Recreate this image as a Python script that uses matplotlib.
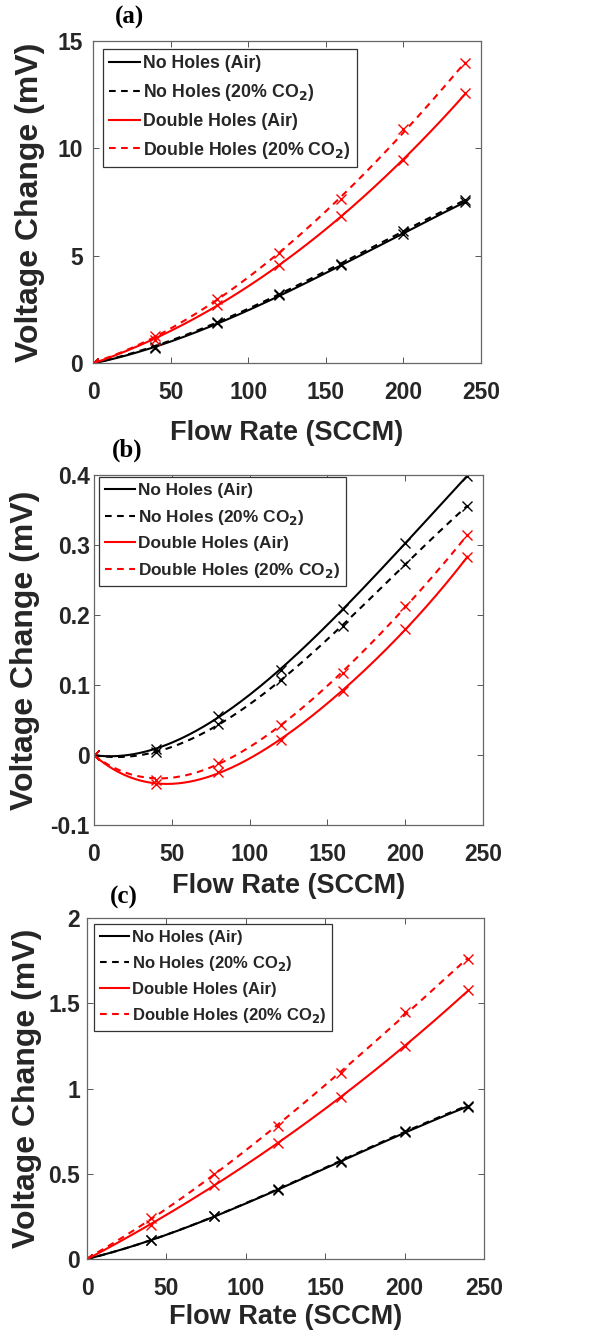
import numpy as np
import matplotlib
matplotlib.use('Agg')
import matplotlib.pyplot as plt

plt.rcParams['font.family'] = ['Liberation Sans', 'DejaVu Sans']
plt.rcParams['font.weight'] = 'bold'
plt.rcParams['axes.labelweight'] = 'bold'
plt.rcParams['mathtext.default'] = 'bf'

# flow rate (SCCM)
flow = [0, 40, 80, 120, 160, 200, 240]

labels = ['No Holes (Air)', 'No Holes (20% CO$_2$)',
          'Double Holes (Air)', 'Double Holes (20% CO$_2$)']

# (a) voltage change (mV)
a_nh_air = [0, 0.70, 1.86, 3.15, 4.55, 6.02, 7.52]
a_nh_co2 = [0, 0.76, 1.92, 3.22, 4.62, 6.15, 7.60]
a_dh_air = [0, 1.09, 2.71, 4.57, 6.85, 9.46, 12.56]
a_dh_co2 = [0, 1.24, 2.99, 5.12, 7.64, 10.88, 13.98]

# (b)
b_nh_air = [0, 0.008, 0.056, 0.122, 0.208, 0.303, 0.399]
b_nh_co2 = [0, 0.004, 0.044, 0.107, 0.185, 0.273, 0.356]
b_dh_air = [0, -0.042, -0.024, 0.022, 0.092, 0.180, 0.283]
b_dh_co2 = [0, -0.035, -0.011, 0.043, 0.117, 0.213, 0.314]

# (c)
c_nh_air = [0, 0.11, 0.25, 0.405, 0.571, 0.744, 0.894]
c_nh_co2 = [0, 0.11, 0.25, 0.41, 0.575, 0.748, 0.90]
c_dh_air = [0, 0.20, 0.434, 0.679, 0.953, 1.247, 1.575]
c_dh_co2 = [0, 0.239, 0.497, 0.781, 1.09, 1.446, 1.761]

W, H = 591, 1342
fig = plt.figure(figsize=(W / 100, H / 100), dpi=100)

def px_axes(left, right, top, bottom):
    return fig.add_axes([left / W, 1 - bottom / H, (right - left) / W, (bottom - top) / H])

panels = [
    dict(box=(93, 481, 41, 363), ylim=(0, 15), yticks=[0, 5, 10, 15], ytl=['0', '5', '10', '15'],
         data=[a_nh_air, a_nh_co2, a_dh_air, a_dh_co2], deg=3, ypad=7, ylx=30, xly=433,
         leg=(103, 49), lfs=12.8, tag='(a)', tagxy=(129, 17)),
    dict(box=(94, 483, 475, 825), ylim=(-0.1, 0.4), yticks=[-0.1, 0, 0.1, 0.2, 0.3, 0.4],
         ytl=['-0.1', '0', '0.1', '0.2', '0.3', '0.4'],
         data=[b_nh_air, b_nh_co2, b_dh_air, b_dh_co2], deg=4, ypad=3, ylx=25, xly=886,
         leg=(99, 477), lfs=12.4, tag='(b)', tagxy=(127, 450)),
    dict(box=(87, 484, 918, 1259), ylim=(0, 2), yticks=[0, 0.5, 1, 1.5, 2], ytl=['0', '0.5', '1', '1.5', '2'],
         data=[c_nh_air, c_nh_co2, c_dh_air, c_dh_co2], deg=3, ypad=5, ylx=27, xly=1317,
         leg=(94, 924), lfs=12.0, tag='(c)', tagxy=(124, 897)),
]

colors = ['black', 'black', 'red', 'red']
styles = ['-', '--', '-', '--']
tc = '#262626'

for p in panels:
    l, r, t, b = p['box']
    ax = px_axes(l, r, t, b)
    xs = np.linspace(0, 240, 200)
    for ys, c, ls, lab in zip(p['data'], colors, styles, labels):
        coef = np.polyfit(flow, ys, p['deg'])
        line, = ax.plot(xs, np.polyval(coef, xs), color=c, ls=ls, lw=1.5, label=lab)
        if ls == '--':
            line.set_dashes((3.2, 2.6))
        ax.plot(flow, ys, ls='none', marker='x', color=c, ms=7, mew=1.0)
    ax.set_xlim(0, 250)
    ax.set_ylim(*p['ylim'])
    ax.set_xticks([0, 50, 100, 150, 200, 250])
    ax.set_yticks(p['yticks'])
    ax.set_yticklabels(p['ytl'])
    ax.tick_params(direction='in', top=True, right=True, length=4, width=0.7,
                   color='#555555', labelsize=16.5, labelcolor=tc)
    ax.tick_params(axis='x', pad=13)
    ax.tick_params(axis='y', pad=p['ypad'])
    for s in ax.spines.values():
        s.set_color('#666666')
        s.set_linewidth(0.9)
    ax.set_xlabel('Flow Rate (SCCM)', fontsize=19.5, color=tc)
    ax.set_ylabel('Voltage Change (mV)', fontsize=23, color=tc)
    ax.yaxis.set_label_coords(-(l - p['ylx']) / (r - l), 0.5)
    ax.xaxis.set_label_coords(0.5, -(p['xly'] - b) / (b - t))
    ax.xaxis.label.set_va('center')
    ax.yaxis.label.set_va('center')
    lx, ly = p['leg']
    leg = ax.legend(loc='upper left', bbox_to_anchor=((lx - l) / (r - l), 1 - (ly - t) / (b - t)),
                    borderaxespad=0, fontsize=p['lfs'], handlelength=1.75, handletextpad=0.15,
                    labelspacing=0.55, borderpad=0.35, fancybox=False, framealpha=1,
                    edgecolor='#333333', labelcolor=tc)
    leg.get_frame().set_linewidth(0.9)
    fig.text(p['tagxy'][0] / W, 1 - p['tagxy'][1] / H, p['tag'], ha='center', va='center',
             family='Liberation Serif', fontweight='bold', fontsize=18, color='black')

fig.savefig('out.png', dpi=100)
